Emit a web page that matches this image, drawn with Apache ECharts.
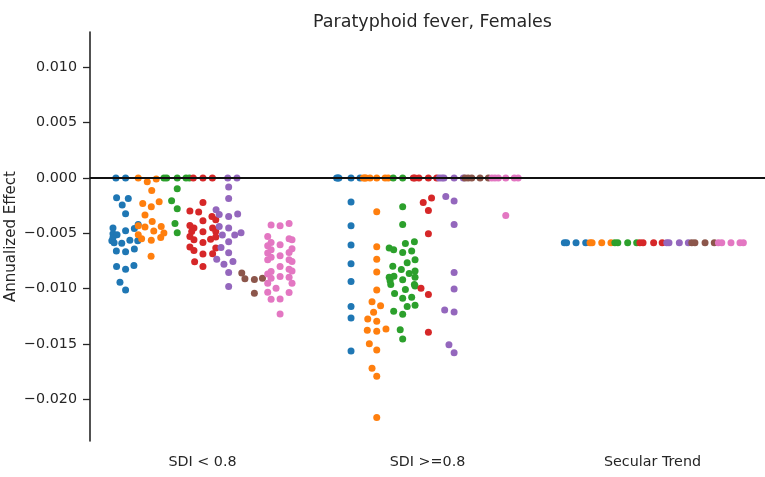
<!DOCTYPE html>
<html>
<head>
<meta charset="utf-8">
<script src="https://cdn.jsdelivr.net/npm/echarts@6/dist/echarts.min.js"></script>
<style>
  html, body { margin: 0; padding: 0; background: #fff; }
  #chart { width: 765px; height: 477px; }
</style>
</head>
<body>
<div id="chart"></div>
<script>
const categories = ['SDI < 0.8', 'SDI >=0.8', 'Secular Trend'];
const yTicks = [-0.02, -0.015, -0.01, -0.005, 0, 0.005, 0.01];
const colors = ['#1f77b4', '#ff7f0e', '#2ca02c', '#d62728', '#9467bd', '#8c564b', '#e377c2'];
const secular = -0.00586;

// each point: [jitter (category widths), annualized effect]; one list per category
const blue = [
  [[-0.042, 0], [0.001, 0], [-0.039, -0.00178], [0.013, -0.00185], [-0.014, -0.00245], [0.001, -0.00324],
   [-0.055, -0.00453], [0.001, -0.00477], [0.040, -0.00457], [0.057, -0.0042], [-0.055, -0.00505],
   [-0.037, -0.00514], [-0.055, -0.0054], [-0.060, -0.00568], [-0.050, -0.00586], [-0.016, -0.00589],
   [0.020, -0.00562], [0.055, -0.00568], [-0.040, -0.00659], [0.001, -0.00668], [0.040, -0.00643],
   [-0.039, -0.00801], [0.001, -0.00824], [0.038, -0.00792], [-0.024, -0.00942], [0.001, -0.01012]],
  [[-0.061, 0], [-0.055, 0], [-0.051, 0], [0.003, 0], [0.043, 0], [0.003, -0.00217], [0.003, -0.00432],
   [0.003, -0.00605], [0.003, -0.00776], [0.003, -0.00937], [0.003, -0.01163], [0.003, -0.01265], [0.003, -0.01564]],
  [[-0.049, secular], [-0.039, secular], [0.003, secular], [0.046, secular]]
];
const orange = [
  [[-0.057, 0], [-0.017, -0.00034], [0.023, -0.0001], [0.003, -0.00112], [-0.037, -0.0023], [0.001, -0.0026],
   [0.036, -0.00215], [-0.027, -0.00335], [0.005, -0.00393], [-0.057, -0.00432], [-0.027, -0.00444],
   [0.045, -0.00438], [0.012, -0.0048], [-0.057, -0.00514], [-0.042, -0.0055], [0.001, -0.00562],
   [0.043, -0.00538], [0.057, -0.00498], [0.000, -0.00707]],
  [[-0.057, 0], [-0.050, 0], [-0.045, 0], [-0.027, 0], [0.003, 0], [0.040, 0], [0.054, 0],
   [0.003, -0.00305], [0.003, -0.00622], [0.003, -0.00734], [0.003, -0.00851], [0.003, -0.01012],
   [-0.018, -0.01118], [0.020, -0.01154], [-0.011, -0.01214], [-0.037, -0.01274], [0.003, -0.01295],
   [-0.039, -0.01377], [0.003, -0.01386], [0.044, -0.01365], [-0.030, -0.01498], [0.003, -0.01555],
   [-0.018, -0.01721], [0.003, -0.01793], [0.003, -0.02165]],
  [[-0.049, secular], [-0.040, secular], [0.003, secular], [0.044, secular]]
];
const green = [
  [[-0.057, 0], [-0.045, 0], [0.002, 0], [0.041, 0], [0.056, 0], [0.002, -0.00097], [-0.023, -0.00206],
   [0.002, -0.00278], [-0.008, -0.00411], [0.002, -0.00495]],
  [[-0.038, 0], [0.004, 0], [0.004, -0.0026], [0.004, -0.0042], [0.016, -0.00592], [0.056, -0.00577],
   [-0.056, -0.00634], [-0.036, -0.00649], [0.004, -0.00674], [0.044, -0.00661], [0.059, -0.0074],
   [0.024, -0.00767], [-0.040, -0.00797], [-0.002, -0.00828], [0.059, -0.0084], [-0.056, -0.00897],
   [-0.035, -0.00888], [-0.052, -0.0093], [-0.049, -0.00964], [0.033, -0.00864], [0.059, -0.00897],
   [0.004, -0.00921], [0.056, -0.00964], [0.059, -0.00976], [0.016, -0.01009], [-0.032, -0.01045],
   [0.044, -0.01078], [0.004, -0.01087], [0.024, -0.01163], [0.059, -0.0115], [-0.036, -0.01205],
   [0.004, -0.01232], [-0.007, -0.01371], [0.004, -0.01456]],
  [[-0.053, secular], [-0.040, secular], [0.004, secular], [0.044, secular]]
];
const red = [
  [[-0.041, 0], [0.002, 0], [0.044, 0], [0.002, -0.00221], [-0.056, -0.00299], [-0.017, -0.00308],
   [0.042, -0.00348], [0.059, -0.00378], [0.002, -0.00387], [-0.056, -0.00429], [-0.038, -0.00453],
   [-0.048, -0.00484], [0.002, -0.00486], [0.045, -0.00453], [0.059, -0.00484], [-0.056, -0.00529],
   [-0.038, -0.00559], [0.002, -0.00583], [0.036, -0.00553], [0.059, -0.00534], [-0.056, -0.00625],
   [-0.038, -0.00656], [0.002, -0.00688], [0.045, -0.00686], [0.059, -0.00634], [-0.035, -0.00758],
   [0.002, -0.00801]],
  [[-0.063, 0], [-0.056, 0], [-0.038, 0], [0.004, 0], [0.041, 0], [-0.019, -0.00221], [0.018, -0.00181],
   [0.004, -0.00293], [0.004, -0.00505], [-0.029, -0.00996], [0.004, -0.01054], [0.004, -0.01395]],
  [[-0.056, secular], [-0.042, secular], [0.005, secular], [0.043, secular]]
];
const purple = [
  [[-0.002, 0], [0.039, 0], [0.002, -0.00082], [0.002, -0.00185], [-0.054, -0.00287], [-0.040, -0.0033],
   [0.002, -0.00348], [0.042, -0.00326], [-0.040, -0.00438], [0.002, -0.00453], [-0.026, -0.00516],
   [0.029, -0.00516], [0.057, -0.00495], [0.002, -0.00577], [-0.032, -0.00629], [0.002, -0.00677],
   [-0.051, -0.00734], [-0.019, -0.00779], [0.021, -0.00755], [0.002, -0.00855], [0.002, -0.00982]],
  [[-0.062, 0], [-0.050, 0], [-0.041, 0], [0.004, 0], [0.045, 0], [-0.033, -0.00167], [0.004, -0.00208],
   [0.004, -0.0042], [0.004, -0.00855], [0.004, -0.01003], [-0.038, -0.01193], [0.004, -0.01211],
   [-0.019, -0.01507], [0.004, -0.0158]],
  [[-0.051, secular], [-0.041, secular], [0.005, secular], [0.045, secular]]
];
const brown = [
  [[-0.054, -0.0086], [-0.040, -0.00912], [0.002, -0.00918], [0.038, -0.00906], [0.002, -0.01042]],
  [[-0.062, 0], [-0.048, 0], [-0.032, 0], [0.005, 0], [0.042, 0]],
  [[-0.054, secular], [-0.040, secular], [0.005, secular], [0.046, secular]]
];
const pink = [
  [[-0.038, -0.00426], [0.002, -0.00432], [0.042, -0.00411], [-0.053, -0.00529], [-0.038, -0.00583],
   [-0.053, -0.00613], [-0.038, -0.00649], [-0.053, -0.00679], [-0.038, -0.00716], [-0.053, -0.0074],
   [-0.038, -0.00846], [-0.053, -0.00867], [-0.038, -0.00906], [-0.053, -0.00951], [-0.053, -0.01033],
   [-0.038, -0.01096], [0.002, -0.00604], [0.002, -0.00704], [0.002, -0.00801], [0.002, -0.00891],
   [-0.016, -0.00996], [0.002, -0.01094], [0.002, -0.01229], [0.042, -0.0055], [0.055, -0.00559],
   [0.055, -0.0064], [0.042, -0.00674], [0.042, -0.0074], [0.055, -0.00755], [0.042, -0.00824],
   [0.055, -0.0084], [0.042, -0.00897], [0.055, -0.00951], [0.042, -0.01036]],
  [[-0.057, 0], [-0.043, 0], [-0.028, 0], [0.005, 0], [0.043, 0], [0.060, 0], [0.005, -0.00339]],
  [[-0.050, secular], [-0.035, secular], [0.006, secular], [0.046, secular], [0.061, secular]]
];

const groups = [blue, orange, green, red, purple, brown, pink];
const textColor = '#262626';
const font = 'DejaVu Sans';

// dodge each hue inside its category, like seaborn's stripplot
const hueWidth = 0.8 / groups.length;
const series = groups.map((grp, h) => {
  const data = [];
  grp.forEach((pts, c) => {
    pts.forEach(p => data.push([c + 0.5 + (h - 3) * hueWidth + p[0], p[1]]));
  });
  return {
    type: 'scatter',
    xAxisIndex: 1,
    data: data,
    symbolSize: 7,
    itemStyle: { color: colors[h], opacity: 1 },
    z: 3
  };
});

// zero line
series.push({
  type: 'scatter',
  xAxisIndex: 1,
  data: [],
  z: 2,
  markLine: {
    silent: true,
    symbol: 'none',
    label: { show: false },
    lineStyle: { color: '#111', width: 2, type: 'solid' },
    data: [{ yAxis: 0 }]
  }
});

const myChart = echarts.init(document.getElementById('chart'));
myChart.setOption({
  animation: false,
  backgroundColor: '#fff',
  textStyle: { fontFamily: font },
  title: {
    text: 'Paratyphoid fever, Females',
    left: 427.5,
    top: 8,
    textAlign: 'center',
    textStyle: { fontFamily: font, fontSize: 17.5, fontWeight: 'normal', color: textColor }
  },
  grid: { left: 90, right: 0, top: 32, bottom: 36, containLabel: false, outerBoundsMode: 'none' },
  xAxis: [
    {
      type: 'category',
      data: categories,
      boundaryGap: true,
      axisLine: { lineStyle: { color: textColor, width: 1.6 } },
      axisTick: { alignWithLabel: true, length: 7, lineStyle: { color: textColor, width: 1.3 } },
      axisLabel: { color: textColor, fontSize: 14.3, margin: 14, fontFamily: font },
      splitLine: { show: false }
    },
    { type: 'value', min: 0, max: 3, show: false }
  ],
  yAxis: {
    type: 'value',
    min: -0.02378,
    max: 0.0132,
    name: 'Annualized Effect',
    nameLocation: 'middle',
    nameRotate: 90,
    nameGap: 71.5,
    nameMoveOverlap: false,
    nameTextStyle: { color: textColor, fontSize: 15, fontFamily: font },
    axisLine: { show: true, lineStyle: { color: textColor, width: 1.6 } },
    axisTick: { show: true, length: 7, customValues: yTicks, lineStyle: { color: textColor, width: 1.3 } },
    axisLabel: {
      color: textColor,
      fontSize: 14.3,
      margin: 13,
      fontFamily: font,
      customValues: yTicks,
      formatter: v => (v < 0 ? '\u2212' : '') + Math.abs(v).toFixed(3)
    },
    splitLine: { show: false }
  },
  series: series
});
</script>
</body>
</html>
